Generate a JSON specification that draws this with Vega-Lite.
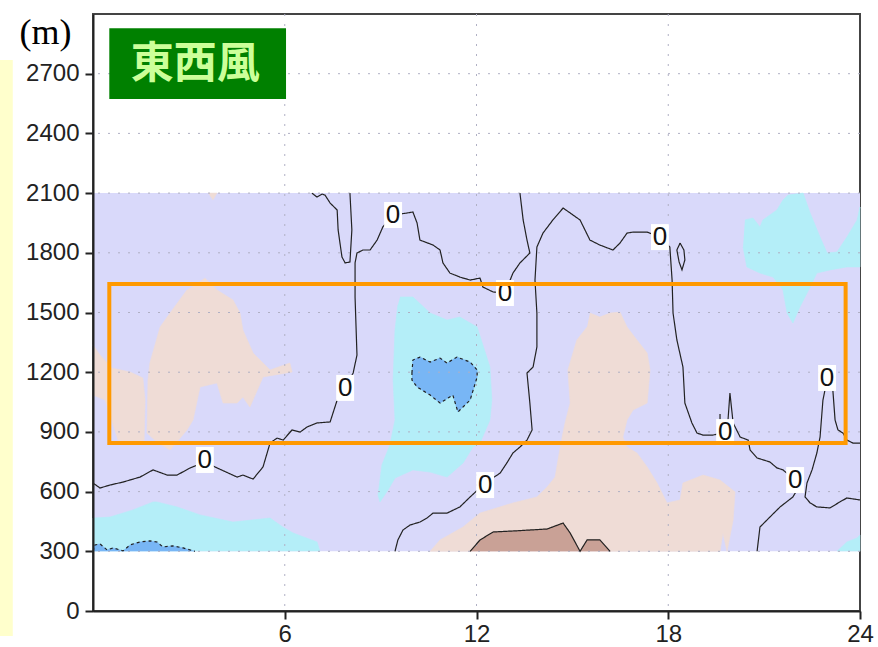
{
  "$schema": "https://vega.github.io/schema/vega-lite/v6.json",
  "width": 767,
  "height": 597,
  "autosize": "none",
  "padding": {"left": 93, "top": 14, "right": 18, "bottom": 36},
  "background": "white",
  "config": {"view": {"stroke": "#444", "strokeWidth": 2}},
  "datasets": {
    "fills": [
      {"p":"c1","k":"-1","z":1,"i":0,"h":0,"m":300},{"p":"c1","k":"-1","z":1,"i":1,"h":0,"m":467},{"p":"c1","k":"-1","z":1,"i":2,"h":0.53,"m":472},{"p":"c1","k":"-1","z":1,"i":3,"h":1.25,"m":508},{"p":"c1","k":"-1","z":1,"i":4,"h":1.88,"m":548},{"p":"c1","k":"-1","z":1,"i":5,"h":2.0,"m":548},{"p":"c1","k":"-1","z":1,"i":6,"h":2.63,"m":523},{"p":"c1","k":"-1","z":1,"i":7,"h":3.35,"m":483},{"p":"c1","k":"-1","z":1,"i":8,"h":4.38,"m":447},{"p":"c1","k":"-1","z":1,"i":9,"h":5.54,"m":467},{"p":"c1","k":"-1","z":1,"i":10,"h":5.94,"m":422},{"p":"c1","k":"-1","z":1,"i":11,"h":6.26,"m":392},{"p":"c1","k":"-1","z":1,"i":12,"h":7.01,"m":347},{"p":"c1","k":"-1","z":1,"i":13,"h":7.10,"m":300},
      {"p":"c2","k":"-1","z":1,"i":0,"h":9.61,"m":1578},{"p":"c2","k":"-1","z":1,"i":1,"h":10.01,"m":1578},{"p":"c2","k":"-1","z":1,"i":2,"h":10.55,"m":1497},{"p":"c2","k":"-1","z":1,"i":3,"h":11.08,"m":1462},{"p":"c2","k":"-1","z":1,"i":4,"h":11.48,"m":1477},{"p":"c2","k":"-1","z":1,"i":5,"h":12.02,"m":1427},{"p":"c2","k":"-1","z":1,"i":6,"h":12.42,"m":1226},{"p":"c2","k":"-1","z":1,"i":7,"h":12.48,"m":1060},{"p":"c2","k":"-1","z":1,"i":8,"h":12.42,"m":960},{"p":"c2","k":"-1","z":1,"i":9,"h":12.11,"m":844},{"p":"c2","k":"-1","z":1,"i":10,"h":11.89,"m":824},{"p":"c2","k":"-1","z":1,"i":11,"h":11.58,"m":744},{"p":"c2","k":"-1","z":1,"i":12,"h":11.08,"m":673},{"p":"c2","k":"-1","z":1,"i":13,"h":10.55,"m":698},{"p":"c2","k":"-1","z":1,"i":14,"h":10.01,"m":709},{"p":"c2","k":"-1","z":1,"i":15,"h":9.45,"m":668},{"p":"c2","k":"-1","z":1,"i":16,"h":9.23,"m":608},{"p":"c2","k":"-1","z":1,"i":17,"h":8.98,"m":548},{"p":"c2","k":"-1","z":1,"i":18,"h":8.92,"m":583},{"p":"c2","k":"-1","z":1,"i":19,"h":9.04,"m":734},{"p":"c2","k":"-1","z":1,"i":20,"h":9.29,"m":834},{"p":"c2","k":"-1","z":1,"i":21,"h":9.45,"m":960},{"p":"c2","k":"-1","z":1,"i":22,"h":9.39,"m":1161},{"p":"c2","k":"-1","z":1,"i":23,"h":9.45,"m":1412},{"p":"c2","k":"-1","z":1,"i":24,"h":9.54,"m":1538},
      {"p":"c3","k":"-1","z":1,"i":0,"h":20.40,"m":1965},{"p":"c3","k":"-1","z":1,"i":1,"h":20.65,"m":1975},{"p":"c3","k":"-1","z":1,"i":2,"h":20.87,"m":1930},{"p":"c3","k":"-1","z":1,"i":3,"h":20.96,"m":1965},{"p":"c3","k":"-1","z":1,"i":4,"h":21.40,"m":2015},{"p":"c3","k":"-1","z":1,"i":5,"h":21.59,"m":2065},{"p":"c3","k":"-1","z":1,"i":6,"h":21.75,"m":2090},{"p":"c3","k":"-1","z":1,"i":7,"h":22.22,"m":2100},{"p":"c3","k":"-1","z":1,"i":8,"h":22.44,"m":2000},{"p":"c3","k":"-1","z":1,"i":9,"h":22.75,"m":1879},{"p":"c3","k":"-1","z":1,"i":10,"h":22.97,"m":1799},{"p":"c3","k":"-1","z":1,"i":11,"h":23.28,"m":1804},{"p":"c3","k":"-1","z":1,"i":12,"h":23.59,"m":1879},{"p":"c3","k":"-1","z":1,"i":13,"h":23.91,"m":1965},{"p":"c3","k":"-1","z":1,"i":14,"h":24,"m":2030},{"p":"c3","k":"-1","z":1,"i":15,"h":24,"m":1729},{"p":"c3","k":"-1","z":1,"i":16,"h":23.59,"m":1729},{"p":"c3","k":"-1","z":1,"i":17,"h":23.06,"m":1714},{"p":"c3","k":"-1","z":1,"i":18,"h":22.65,"m":1698},{"p":"c3","k":"-1","z":1,"i":19,"h":22.44,"m":1628},{"p":"c3","k":"-1","z":1,"i":20,"h":22.12,"m":1528},{"p":"c3","k":"-1","z":1,"i":21,"h":21.90,"m":1447},{"p":"c3","k":"-1","z":1,"i":22,"h":21.72,"m":1497},{"p":"c3","k":"-1","z":1,"i":23,"h":21.59,"m":1613},{"p":"c3","k":"-1","z":1,"i":24,"h":21.28,"m":1678},{"p":"c3","k":"-1","z":1,"i":25,"h":20.87,"m":1698},{"p":"c3","k":"-1","z":1,"i":26,"h":20.46,"m":1729},{"p":"c3","k":"-1","z":1,"i":27,"h":20.34,"m":1829},
      {"p":"c4","k":"-1","z":1,"i":0,"h":23.28,"m":300},{"p":"c4","k":"-1","z":1,"i":1,"h":23.59,"m":347},{"p":"c4","k":"-1","z":1,"i":2,"h":23.91,"m":367},{"p":"c4","k":"-1","z":1,"i":3,"h":24,"m":382},{"p":"c4","k":"-1","z":1,"i":4,"h":24,"m":300},
      {"p":"r1","k":"1","z":1,"i":0,"h":3.50,"m":1673},{"p":"r1","k":"1","z":1,"i":1,"h":3.88,"m":1613},{"p":"r1","k":"1","z":1,"i":2,"h":4.38,"m":1563},{"p":"r1","k":"1","z":1,"i":3,"h":4.60,"m":1497},{"p":"r1","k":"1","z":1,"i":4,"h":4.69,"m":1412},{"p":"r1","k":"1","z":1,"i":5,"h":5.01,"m":1296},{"p":"r1","k":"1","z":1,"i":6,"h":5.54,"m":1211},{"p":"r1","k":"1","z":1,"i":7,"h":6.16,"m":1246},{"p":"r1","k":"1","z":1,"i":8,"h":6.23,"m":1201},{"p":"r1","k":"1","z":1,"i":9,"h":5.32,"m":1176},{"p":"r1","k":"1","z":1,"i":10,"h":4.91,"m":1025},{"p":"r1","k":"1","z":1,"i":11,"h":4.69,"m":1075},{"p":"r1","k":"1","z":1,"i":12,"h":4.51,"m":1045},{"p":"r1","k":"1","z":1,"i":13,"h":4.07,"m":1045},{"p":"r1","k":"1","z":1,"i":14,"h":3.88,"m":1146},{"p":"r1","k":"1","z":1,"i":15,"h":3.35,"m":1126},{"p":"r1","k":"1","z":1,"i":16,"h":3.13,"m":960},{"p":"r1","k":"1","z":1,"i":17,"h":2.94,"m":910},{"p":"r1","k":"1","z":1,"i":18,"h":2.41,"m":809},{"p":"r1","k":"1","z":1,"i":19,"h":2.0,"m":849},{"p":"r1","k":"1","z":1,"i":20,"h":1.69,"m":894},{"p":"r1","k":"1","z":1,"i":21,"h":1.72,"m":1161},{"p":"r1","k":"1","z":1,"i":22,"h":1.78,"m":1246},{"p":"r1","k":"1","z":1,"i":23,"h":2.10,"m":1427},{"p":"r1","k":"1","z":1,"i":24,"h":2.41,"m":1497},{"p":"r1","k":"1","z":1,"i":25,"h":2.94,"m":1613},
      {"p":"r2","k":"1","z":1,"i":0,"h":0,"m":1337},{"p":"r2","k":"1","z":1,"i":1,"h":0.22,"m":1286},{"p":"r2","k":"1","z":1,"i":2,"h":0.59,"m":1221},{"p":"r2","k":"1","z":1,"i":3,"h":1.16,"m":1201},{"p":"r2","k":"1","z":1,"i":4,"h":1.56,"m":1171},{"p":"r2","k":"1","z":1,"i":5,"h":1.63,"m":1060},{"p":"r2","k":"1","z":1,"i":6,"h":1.60,"m":859},{"p":"r2","k":"1","z":1,"i":7,"h":1.16,"m":839},{"p":"r2","k":"1","z":1,"i":8,"h":0.78,"m":859},{"p":"r2","k":"1","z":1,"i":9,"h":0.59,"m":960},{"p":"r2","k":"1","z":1,"i":10,"h":0.38,"m":1060},{"p":"r2","k":"1","z":1,"i":11,"h":0,"m":1085},
      {"p":"r3","k":"1","z":1,"i":0,"h":3.60,"m":2100},{"p":"r3","k":"1","z":1,"i":1,"h":3.88,"m":2100},{"p":"r3","k":"1","z":1,"i":2,"h":3.75,"m":2065},
      {"p":"r4","k":"1","z":1,"i":0,"h":15.55,"m":1497},{"p":"r4","k":"1","z":1,"i":1,"h":15.86,"m":1477},{"p":"r4","k":"1","z":1,"i":2,"h":16.18,"m":1497},{"p":"r4","k":"1","z":1,"i":3,"h":16.49,"m":1502},{"p":"r4","k":"1","z":1,"i":4,"h":16.71,"m":1427},{"p":"r4","k":"1","z":1,"i":5,"h":17.02,"m":1362},{"p":"r4","k":"1","z":1,"i":6,"h":17.34,"m":1296},{"p":"r4","k":"1","z":1,"i":7,"h":17.43,"m":1211},{"p":"r4","k":"1","z":1,"i":8,"h":17.34,"m":1045},{"p":"r4","k":"1","z":1,"i":9,"h":16.90,"m":1010},{"p":"r4","k":"1","z":1,"i":10,"h":16.71,"m":960},{"p":"r4","k":"1","z":1,"i":11,"h":16.58,"m":874},{"p":"r4","k":"1","z":1,"i":12,"h":16.71,"m":824},{"p":"r4","k":"1","z":1,"i":13,"h":17.02,"m":794},{"p":"r4","k":"1","z":1,"i":14,"h":17.34,"m":724},{"p":"r4","k":"1","z":1,"i":15,"h":17.65,"m":643},{"p":"r4","k":"1","z":1,"i":16,"h":17.96,"m":543},{"p":"r4","k":"1","z":1,"i":17,"h":18.37,"m":558},{"p":"r4","k":"1","z":1,"i":18,"h":18.46,"m":643},{"p":"r4","k":"1","z":1,"i":19,"h":19.09,"m":683},{"p":"r4","k":"1","z":1,"i":20,"h":19.62,"m":658},{"p":"r4","k":"1","z":1,"i":21,"h":20.09,"m":598},{"p":"r4","k":"1","z":1,"i":22,"h":20.03,"m":457},{"p":"r4","k":"1","z":1,"i":23,"h":19.84,"m":300},{"p":"r4","k":"1","z":1,"i":24,"h":19.71,"m":392},{"p":"r4","k":"1","z":1,"i":25,"h":19.62,"m":300},{"p":"r4","k":"1","z":1,"i":26,"h":10.55,"m":300},{"p":"r4","k":"1","z":1,"i":27,"h":10.86,"m":357},{"p":"r4","k":"1","z":1,"i":28,"h":11.58,"m":422},{"p":"r4","k":"1","z":1,"i":29,"h":12.11,"m":492},{"p":"r4","k":"1","z":1,"i":30,"h":13.14,"m":543},{"p":"r4","k":"1","z":1,"i":31,"h":13.89,"m":573},{"p":"r4","k":"1","z":1,"i":32,"h":14.21,"m":623},{"p":"r4","k":"1","z":1,"i":33,"h":14.46,"m":673},{"p":"r4","k":"1","z":1,"i":34,"h":14.55,"m":759},{"p":"r4","k":"1","z":1,"i":35,"h":14.68,"m":874},{"p":"r4","k":"1","z":1,"i":36,"h":14.77,"m":945},{"p":"r4","k":"1","z":1,"i":37,"h":14.93,"m":1045},{"p":"r4","k":"1","z":1,"i":38,"h":14.86,"m":1211},{"p":"r4","k":"1","z":1,"i":39,"h":15.14,"m":1362},{"p":"r4","k":"1","z":1,"i":40,"h":15.46,"m":1427},
      {"p":"b1","k":"-2","z":2,"i":0,"h":0,"m":300},{"p":"b1","k":"-2","z":2,"i":1,"h":0.06,"m":332},{"p":"b1","k":"-2","z":2,"i":2,"h":0.22,"m":337},{"p":"b1","k":"-2","z":2,"i":3,"h":0.44,"m":307},{"p":"b1","k":"-2","z":2,"i":4,"h":0.63,"m":317},{"p":"b1","k":"-2","z":2,"i":5,"h":0.94,"m":302},{"p":"b1","k":"-2","z":2,"i":6,"h":1.16,"m":332},{"p":"b1","k":"-2","z":2,"i":7,"h":1.47,"m":347},{"p":"b1","k":"-2","z":2,"i":8,"h":1.78,"m":352},{"p":"b1","k":"-2","z":2,"i":9,"h":2.0,"m":347},{"p":"b1","k":"-2","z":2,"i":10,"h":2.19,"m":322},{"p":"b1","k":"-2","z":2,"i":11,"h":2.5,"m":327},{"p":"b1","k":"-2","z":2,"i":12,"h":2.82,"m":317},{"p":"b1","k":"-2","z":2,"i":13,"h":3.19,"m":300},
      {"p":"b2","k":"-2","z":2,"i":0,"h":9.98,"m":1196},{"p":"b2","k":"-2","z":2,"i":1,"h":10.01,"m":1261},{"p":"b2","k":"-2","z":2,"i":2,"h":10.23,"m":1276},{"p":"b2","k":"-2","z":2,"i":3,"h":10.55,"m":1251},{"p":"b2","k":"-2","z":2,"i":4,"h":10.86,"m":1271},{"p":"b2","k":"-2","z":2,"i":5,"h":11.08,"m":1246},{"p":"b2","k":"-2","z":2,"i":6,"h":11.39,"m":1276},{"p":"b2","k":"-2","z":2,"i":7,"h":11.80,"m":1251},{"p":"b2","k":"-2","z":2,"i":8,"h":12.02,"m":1211},{"p":"b2","k":"-2","z":2,"i":9,"h":12.02,"m":1176},{"p":"b2","k":"-2","z":2,"i":10,"h":11.80,"m":1060},{"p":"b2","k":"-2","z":2,"i":11,"h":11.48,"m":1010},{"p":"b2","k":"-2","z":2,"i":12,"h":11.42,"m":1000},{"p":"b2","k":"-2","z":2,"i":13,"h":11.26,"m":1085},{"p":"b2","k":"-2","z":2,"i":14,"h":10.86,"m":1045},{"p":"b2","k":"-2","z":2,"i":15,"h":10.55,"m":1085},{"p":"b2","k":"-2","z":2,"i":16,"h":10.14,"m":1126},{"p":"b2","k":"-2","z":2,"i":17,"h":9.98,"m":1161},
      {"p":"br","k":"2","z":2,"i":0,"h":11.80,"m":300},{"p":"br","k":"2","z":2,"i":1,"h":12.11,"m":357},{"p":"br","k":"2","z":2,"i":2,"h":12.52,"m":397},{"p":"br","k":"2","z":2,"i":3,"h":13.14,"m":402},{"p":"br","k":"2","z":2,"i":4,"h":14.21,"m":412},{"p":"br","k":"2","z":2,"i":5,"h":14.71,"m":442},{"p":"br","k":"2","z":2,"i":6,"h":14.93,"m":392},{"p":"br","k":"2","z":2,"i":7,"h":15.24,"m":300},{"p":"br","k":"2","z":2,"i":8,"h":15.46,"m":357},{"p":"br","k":"2","z":2,"i":9,"h":15.86,"m":357},{"p":"br","k":"2","z":2,"i":10,"h":16.18,"m":300}
    ],
    "contours": [
      {"c":"A","s":"solid","i":0,"h":0,"m":643},{"c":"A","s":"solid","i":1,"h":0.22,"m":618},{"c":"A","s":"solid","i":2,"h":0.53,"m":633},{"c":"A","s":"solid","i":3,"h":0.94,"m":648},{"c":"A","s":"solid","i":4,"h":1.47,"m":673},{"c":"A","s":"solid","i":5,"h":1.88,"m":709},{"c":"A","s":"solid","i":6,"h":2.32,"m":683},{"c":"A","s":"solid","i":7,"h":2.63,"m":683},{"c":"A","s":"solid","i":8,"h":3.04,"m":719},{"c":"A","s":"solid","i":9,"h":3.50,"m":749},{"c":"A","s":"solid","i":10,"h":3.88,"m":719},{"c":"A","s":"solid","i":11,"h":4.51,"m":673},{"c":"A","s":"solid","i":12,"h":4.69,"m":683},{"c":"A","s":"solid","i":13,"h":5.01,"m":663},{"c":"A","s":"solid","i":14,"h":5.32,"m":724},{"c":"A","s":"solid","i":15,"h":5.54,"m":844},{"c":"A","s":"solid","i":16,"h":5.76,"m":869},{"c":"A","s":"solid","i":17,"h":5.95,"m":859},{"c":"A","s":"solid","i":18,"h":6.23,"m":910},{"c":"A","s":"solid","i":19,"h":6.48,"m":899},{"c":"A","s":"solid","i":20,"h":6.70,"m":925},{"c":"A","s":"solid","i":21,"h":7.01,"m":945},{"c":"A","s":"solid","i":22,"h":7.42,"m":950},{"c":"A","s":"solid","i":23,"h":7.64,"m":1060},{"c":"A","s":"solid","i":24,"h":7.89,"m":1121},{"c":"A","s":"solid","i":25,"h":8.14,"m":1196},{"c":"A","s":"solid","i":26,"h":8.26,"m":1286},{"c":"A","s":"solid","i":27,"h":8.20,"m":1578},{"c":"A","s":"solid","i":28,"h":8.20,"m":1749},{"c":"A","s":"solid","i":29,"h":8.26,"m":1799},{"c":"A","s":"solid","i":30,"h":8.45,"m":1814},{"c":"A","s":"solid","i":31,"h":8.67,"m":1814},{"c":"A","s":"solid","i":32,"h":8.89,"m":1864},{"c":"A","s":"solid","i":33,"h":9.07,"m":1930},{"c":"A","s":"solid","i":34,"h":9.39,"m":1990},{"c":"A","s":"solid","i":35,"h":9.83,"m":2000},{"c":"A","s":"solid","i":36,"h":10.01,"m":2005},{"c":"A","s":"solid","i":37,"h":10.14,"m":1950},{"c":"A","s":"solid","i":38,"h":10.23,"m":1864},{"c":"A","s":"solid","i":39,"h":10.64,"m":1839},{"c":"A","s":"solid","i":40,"h":10.86,"m":1814},{"c":"A","s":"solid","i":41,"h":10.95,"m":1749},{"c":"A","s":"solid","i":42,"h":11.17,"m":1698},{"c":"A","s":"solid","i":43,"h":11.48,"m":1678},{"c":"A","s":"solid","i":44,"h":11.80,"m":1663},{"c":"A","s":"solid","i":45,"h":12.11,"m":1673},{"c":"A","s":"solid","i":46,"h":12.20,"m":1628},{"c":"A","s":"solid","i":47,"h":12.52,"m":1603},{"c":"A","s":"solid","i":48,"h":12.89,"m":1598},{"c":"A","s":"solid","i":49,"h":13.14,"m":1698},{"c":"A","s":"solid","i":50,"h":13.36,"m":1749},{"c":"A","s":"solid","i":51,"h":13.67,"m":1799},{"c":"A","s":"solid","i":52,"h":13.58,"m":1864},{"c":"A","s":"solid","i":53,"h":13.46,"m":1965},{"c":"A","s":"solid","i":54,"h":13.36,"m":2100},
      {"c":"B","s":"solid","i":0,"h":6.85,"m":2100},{"c":"B","s":"solid","i":1,"h":7.01,"m":2080},{"c":"B","s":"solid","i":2,"h":7.17,"m":2095},{"c":"B","s":"solid","i":3,"h":7.26,"m":2090},{"c":"B","s":"solid","i":4,"h":7.42,"m":2050},{"c":"B","s":"solid","i":5,"h":7.64,"m":2015},{"c":"B","s":"solid","i":6,"h":7.67,"m":1915},{"c":"B","s":"solid","i":7,"h":7.79,"m":1779},{"c":"B","s":"solid","i":8,"h":7.89,"m":1749},{"c":"B","s":"solid","i":9,"h":8.04,"m":1754},{"c":"B","s":"solid","i":10,"h":8.10,"m":1915},{"c":"B","s":"solid","i":11,"h":8.04,"m":2100},
      {"c":"C","s":"solid","i":0,"h":9.45,"m":300},{"c":"C","s":"solid","i":1,"h":9.54,"m":357},{"c":"C","s":"solid","i":2,"h":9.70,"m":407},{"c":"C","s":"solid","i":3,"h":9.92,"m":432},{"c":"C","s":"solid","i":4,"h":10.23,"m":447},{"c":"C","s":"solid","i":5,"h":10.45,"m":467},{"c":"C","s":"solid","i":6,"h":10.64,"m":492},{"c":"C","s":"solid","i":7,"h":11.08,"m":492},{"c":"C","s":"solid","i":8,"h":11.48,"m":523},{"c":"C","s":"solid","i":9,"h":11.80,"m":573},{"c":"C","s":"solid","i":10,"h":12.27,"m":643},{"c":"C","s":"solid","i":11,"h":12.74,"m":693},{"c":"C","s":"solid","i":12,"h":12.95,"m":744},{"c":"C","s":"solid","i":13,"h":13.14,"m":794},{"c":"C","s":"solid","i":14,"h":13.36,"m":824},{"c":"C","s":"solid","i":15,"h":13.58,"m":859},{"c":"C","s":"solid","i":16,"h":13.74,"m":910},{"c":"C","s":"solid","i":17,"h":13.67,"m":1045},{"c":"C","s":"solid","i":18,"h":13.58,"m":1196},{"c":"C","s":"solid","i":19,"h":13.77,"m":1226},{"c":"C","s":"solid","i":20,"h":13.89,"m":1327},{"c":"C","s":"solid","i":21,"h":13.89,"m":1497},{"c":"C","s":"solid","i":22,"h":13.83,"m":1663},{"c":"C","s":"solid","i":23,"h":13.89,"m":1829},{"c":"C","s":"solid","i":24,"h":14.08,"m":1899},{"c":"C","s":"solid","i":25,"h":14.39,"m":1965},{"c":"C","s":"solid","i":26,"h":14.71,"m":2025},{"c":"C","s":"solid","i":27,"h":15.24,"m":1965},{"c":"C","s":"solid","i":28,"h":15.55,"m":1864},{"c":"C","s":"solid","i":29,"h":15.86,"m":1839},{"c":"C","s":"solid","i":30,"h":16.27,"m":1814},{"c":"C","s":"solid","i":31,"h":16.49,"m":1849},{"c":"C","s":"solid","i":32,"h":16.71,"m":1899},{"c":"C","s":"solid","i":33,"h":16.90,"m":1904},{"c":"C","s":"solid","i":34,"h":17.34,"m":1904},{"c":"C","s":"solid","i":35,"h":17.74,"m":1879},{"c":"C","s":"solid","i":36,"h":18.05,"m":1829},{"c":"C","s":"solid","i":37,"h":18.12,"m":1663},{"c":"C","s":"solid","i":38,"h":18.15,"m":1497},{"c":"C","s":"solid","i":39,"h":18.27,"m":1362},{"c":"C","s":"solid","i":40,"h":18.46,"m":1226},{"c":"C","s":"solid","i":41,"h":18.52,"m":1045},{"c":"C","s":"solid","i":42,"h":18.74,"m":945},{"c":"C","s":"solid","i":43,"h":18.90,"m":894},{"c":"C","s":"solid","i":44,"h":19.09,"m":884},{"c":"C","s":"solid","i":45,"h":19.40,"m":884},{"c":"C","s":"solid","i":46,"h":19.78,"m":899},{"c":"C","s":"solid","i":47,"h":19.87,"m":960},{"c":"C","s":"solid","i":48,"h":19.93,"m":1095},{"c":"C","s":"solid","i":49,"h":20.03,"m":945},{"c":"C","s":"solid","i":50,"h":20.25,"m":874},{"c":"C","s":"solid","i":51,"h":20.50,"m":859},{"c":"C","s":"solid","i":52,"h":20.56,"m":809},{"c":"C","s":"solid","i":53,"h":20.78,"m":769},{"c":"C","s":"solid","i":54,"h":21.18,"m":749},{"c":"C","s":"solid","i":55,"h":21.40,"m":719},{"c":"C","s":"solid","i":56,"h":21.59,"m":709},{"c":"C","s":"solid","i":57,"h":21.97,"m":658},{"c":"C","s":"solid","i":58,"h":22.03,"m":608},{"c":"C","s":"solid","i":59,"h":21.90,"m":573},{"c":"C","s":"solid","i":60,"h":21.50,"m":523},{"c":"C","s":"solid","i":61,"h":21.18,"m":472},{"c":"C","s":"solid","i":62,"h":20.87,"m":422},{"c":"C","s":"solid","i":63,"h":20.78,"m":300},
      {"c":"D","s":"solid","i":0,"h":24,"m":844},{"c":"D","s":"solid","i":1,"h":23.78,"m":844},{"c":"D","s":"solid","i":2,"h":23.59,"m":859},{"c":"D","s":"solid","i":3,"h":23.47,"m":894},{"c":"D","s":"solid","i":4,"h":23.31,"m":910},{"c":"D","s":"solid","i":5,"h":23.22,"m":960},{"c":"D","s":"solid","i":6,"h":23.15,"m":1111},{"c":"D","s":"solid","i":7,"h":22.97,"m":1161},{"c":"D","s":"solid","i":8,"h":22.84,"m":1060},{"c":"D","s":"solid","i":9,"h":22.75,"m":874},{"c":"D","s":"solid","i":10,"h":22.65,"m":794},{"c":"D","s":"solid","i":11,"h":22.50,"m":709},{"c":"D","s":"solid","i":12,"h":22.34,"m":643},{"c":"D","s":"solid","i":13,"h":22.28,"m":573},{"c":"D","s":"solid","i":14,"h":22.44,"m":543},{"c":"D","s":"solid","i":15,"h":22.65,"m":523},{"c":"D","s":"solid","i":16,"h":23.06,"m":518},{"c":"D","s":"solid","i":17,"h":23.37,"m":548},{"c":"D","s":"solid","i":18,"h":23.59,"m":568},{"c":"D","s":"solid","i":19,"h":24,"m":558},
      {"c":"E","s":"solid","i":0,"h":18.37,"m":1849},{"c":"E","s":"solid","i":1,"h":18.49,"m":1814},{"c":"E","s":"solid","i":2,"h":18.52,"m":1764},{"c":"E","s":"solid","i":3,"h":18.43,"m":1714},{"c":"E","s":"solid","i":4,"h":18.34,"m":1754},{"c":"E","s":"solid","i":5,"h":18.27,"m":1814},{"c":"E","s":"solid","i":6,"h":18.37,"m":1849},
      {"c":"T","s":"solid","i":0,"h":19.62,"m":930},{"c":"T","s":"solid","i":1,"h":19.62,"m":990},
      {"c":"BR","s":"solid","i":0,"h":11.80,"m":300},{"c":"BR","s":"solid","i":1,"h":12.11,"m":357},{"c":"BR","s":"solid","i":2,"h":12.52,"m":397},{"c":"BR","s":"solid","i":3,"h":13.14,"m":402},{"c":"BR","s":"solid","i":4,"h":14.21,"m":412},{"c":"BR","s":"solid","i":5,"h":14.71,"m":442},{"c":"BR","s":"solid","i":6,"h":14.93,"m":392},{"c":"BR","s":"solid","i":7,"h":15.24,"m":300},{"c":"BR","s":"solid","i":8,"h":15.46,"m":357},{"c":"BR","s":"solid","i":9,"h":15.86,"m":357},{"c":"BR","s":"solid","i":10,"h":16.18,"m":300},
      {"c":"B1","s":"dashed","i":0,"h":0,"m":300},{"c":"B1","s":"dashed","i":1,"h":0.06,"m":332},{"c":"B1","s":"dashed","i":2,"h":0.22,"m":337},{"c":"B1","s":"dashed","i":3,"h":0.44,"m":307},{"c":"B1","s":"dashed","i":4,"h":0.63,"m":317},{"c":"B1","s":"dashed","i":5,"h":0.94,"m":302},{"c":"B1","s":"dashed","i":6,"h":1.16,"m":332},{"c":"B1","s":"dashed","i":7,"h":1.47,"m":347},{"c":"B1","s":"dashed","i":8,"h":1.78,"m":352},{"c":"B1","s":"dashed","i":9,"h":2.0,"m":347},{"c":"B1","s":"dashed","i":10,"h":2.19,"m":322},{"c":"B1","s":"dashed","i":11,"h":2.5,"m":327},{"c":"B1","s":"dashed","i":12,"h":2.82,"m":317},{"c":"B1","s":"dashed","i":13,"h":3.19,"m":300},
      {"c":"B2","s":"dashed","i":0,"h":9.98,"m":1196},{"c":"B2","s":"dashed","i":1,"h":10.01,"m":1261},{"c":"B2","s":"dashed","i":2,"h":10.23,"m":1276},{"c":"B2","s":"dashed","i":3,"h":10.55,"m":1251},{"c":"B2","s":"dashed","i":4,"h":10.86,"m":1271},{"c":"B2","s":"dashed","i":5,"h":11.08,"m":1246},{"c":"B2","s":"dashed","i":6,"h":11.39,"m":1276},{"c":"B2","s":"dashed","i":7,"h":11.80,"m":1251},{"c":"B2","s":"dashed","i":8,"h":12.02,"m":1211},{"c":"B2","s":"dashed","i":9,"h":12.02,"m":1176},{"c":"B2","s":"dashed","i":10,"h":11.80,"m":1060},{"c":"B2","s":"dashed","i":11,"h":11.48,"m":1010},{"c":"B2","s":"dashed","i":12,"h":11.42,"m":1000},{"c":"B2","s":"dashed","i":13,"h":11.26,"m":1085},{"c":"B2","s":"dashed","i":14,"h":10.86,"m":1045},{"c":"B2","s":"dashed","i":15,"h":10.55,"m":1085},{"c":"B2","s":"dashed","i":16,"h":10.14,"m":1126},{"c":"B2","s":"dashed","i":17,"h":9.98,"m":1161},{"c":"B2","s":"dashed","i":18,"h":9.98,"m":1196}
    ],
    "labels": [
      {"v":"0","h":3.50,"m":759},{"v":"0","h":7.89,"m":1121},{"v":"0","h":9.39,"m":1990},{"v":"0","h":12.89,"m":1598},{"v":"0","h":12.27,"m":633},{"v":"0","h":17.74,"m":1879},{"v":"0","h":19.78,"m":899},{"v":"0","h":21.97,"m":658},{"v":"0","h":22.97,"m":1171}
    ]
  },
  "layer": [
    {
      "data": {"values": [{"zone":"band","h":0,"h2":24,"m":300,"m2":2100}]},
      "mark": {"type": "rect", "fill": "#d9d9fa"},
      "encoding": {
        "x": {"field": "h", "type": "quantitative", "scale": {"domain": [0, 24], "nice": false, "zero": false},
          "axis": {"values": [6, 12, 18, 24], "format": "d", "grid": false, "title": null, "labelFontSize": 24, "labelFont": "Liberation Sans", "labelColor": "#222", "labelFlush": false, "labelPadding": 3, "tickSize": 8, "tickWidth": 2, "tickColor": "#222", "domainColor": "#222", "domainWidth": 2, "zindex": 1}},
        "x2": {"field": "h2"},
        "y": {"field": "m", "type": "quantitative", "scale": {"domain": [0, 3000], "nice": false, "zero": false},
          "axis": {"values": [0, 300, 600, 900, 1200, 1500, 1800, 2100, 2400, 2700], "format": "d", "grid": false, "title": "(m)", "titleAngle": 0, "titleX": -48, "titleY": 18, "titleAlign": "center", "titleBaseline": "middle", "titleFont": "Liberation Serif", "titleFontSize": 36, "titleFontWeight": "normal", "titleColor": "#000", "labelFontSize": 24, "labelFont": "Liberation Sans", "labelColor": "#222", "labelFlush": false, "labelPadding": 6, "tickSize": 8, "tickWidth": 2, "tickColor": "#222", "domainColor": "#222", "domainWidth": 2, "zindex": 1}},
        "y2": {"field": "m2"}
      }
    },
    {
      "data": {"name": "fills"},
      "transform": [{"filter": "datum.z == 1"}],
      "mark": {"type": "line", "strokeWidth": 0.6},
      "encoding": {
        "x": {"field": "h", "type": "quantitative"},
        "y": {"field": "m", "type": "quantitative"},
        "detail": {"field": "p"},
        "order": {"field": "i", "type": "quantitative"},
        "fill": {"field": "k", "type": "nominal", "scale": {"domain": ["-2", "-1", "1", "2"], "range": ["#78b6f5", "#b4eef8", "#efdcd6", "#c9a196"]}, "legend": null},
        "stroke": {"field": "k", "type": "nominal", "scale": {"domain": ["-2", "-1", "1", "2"], "range": ["#78b6f5", "#b4eef8", "#efdcd6", "#c9a196"]}, "legend": null}
      }
    },
    {
      "data": {"name": "fills"},
      "transform": [{"filter": "datum.z == 2"}],
      "mark": {"type": "line", "strokeWidth": 0.6},
      "encoding": {
        "x": {"field": "h", "type": "quantitative"},
        "y": {"field": "m", "type": "quantitative"},
        "detail": {"field": "p"},
        "order": {"field": "i", "type": "quantitative"},
        "fill": {"field": "k", "type": "nominal", "scale": {"domain": ["-2", "-1", "1", "2"], "range": ["#78b6f5", "#b4eef8", "#efdcd6", "#c9a196"]}, "legend": null},
        "stroke": {"field": "k", "type": "nominal", "scale": {"domain": ["-2", "-1", "1", "2"], "range": ["#78b6f5", "#b4eef8", "#efdcd6", "#c9a196"]}, "legend": null}
      }
    },
    {
      "data": {"values": [{"h": 6}, {"h": 12}, {"h": 18}]},
      "mark": {"type": "rule", "color": "#b0b0c4", "strokeWidth": 1, "strokeDash": [2, 8]},
      "encoding": {
        "x": {"field": "h", "type": "quantitative"}
      }
    },
    {
      "data": {"values": [{"m": 300}, {"m": 600}, {"m": 900}, {"m": 1200}, {"m": 1500}, {"m": 1800}, {"m": 2100}, {"m": 2400}, {"m": 2700}]},
      "mark": {"type": "rule", "color": "#b0b0c4", "strokeWidth": 1, "strokeDash": [2, 8]},
      "encoding": {
        "y": {"field": "m", "type": "quantitative"}
      }
    },
    {
      "data": {"name": "contours"},
      "mark": {"type": "line", "color": "#222", "strokeWidth": 1.2},
      "encoding": {
        "x": {"field": "h", "type": "quantitative"},
        "y": {"field": "m", "type": "quantitative"},
        "detail": {"field": "c"},
        "order": {"field": "i", "type": "quantitative"},
        "strokeDash": {"field": "s", "type": "nominal", "scale": {"domain": ["solid", "dashed"], "range": [[1, 0], [3, 3]]}, "legend": null}
      }
    },
    {
      "data": {"name": "labels"},
      "mark": {"type": "point", "shape": "M-0.69,-1L0.69,-1L0.69,1L-0.69,1Z", "filled": true, "fill": "white", "opacity": 1, "strokeWidth": 0, "size": 676},
      "encoding": {
        "x": {"field": "h", "type": "quantitative"},
        "y": {"field": "m", "type": "quantitative"}
      }
    },
    {
      "data": {"name": "labels"},
      "mark": {"type": "text", "font": "Liberation Sans", "fontSize": 26, "color": "#111", "align": "center", "baseline": "middle"},
      "encoding": {
        "x": {"field": "h", "type": "quantitative"},
        "y": {"field": "m", "type": "quantitative"},
        "text": {"field": "v", "type": "nominal"}
      }
    },
    {
      "data": {"values": [{"box": "focus", "h": 0.51, "h2": 23.55, "m": 844, "m2": 1643}]},
      "mark": {"type": "rect", "fillOpacity": 0, "stroke": "#ff9900", "strokeWidth": 4},
      "encoding": {
        "x": {"field": "h", "type": "quantitative"},
        "x2": {"field": "h2"},
        "y": {"field": "m", "type": "quantitative"},
        "y2": {"field": "m2"}
      }
    },
    {
      "data": {"values": [{"box": "title", "h": 0.51, "h2": 6.04, "m": 2573, "m2": 2928}]},
      "mark": {"type": "rect", "fill": "#008000"},
      "encoding": {
        "x": {"field": "h", "type": "quantitative"},
        "x2": {"field": "h2"},
        "y": {"field": "m", "type": "quantitative"},
        "y2": {"field": "m2"}
      }
    },
    {
      "data": {"values": [{"t": "東西風", "h": 3.2, "m": 2745}]},
      "mark": {"type": "text", "font": "Noto Sans CJK JP", "fontWeight": "bold", "fontSize": 43, "color": "#ccff99", "align": "center", "baseline": "middle"},
      "encoding": {
        "x": {"field": "h", "type": "quantitative"},
        "y": {"field": "m", "type": "quantitative"},
        "text": {"field": "t", "type": "nominal"}
      }
    },
    {
      "data": {"values": [{"box": "side", "h": -2.91, "h2": -2.51, "m": -126, "m2": 2769}]},
      "mark": {"type": "rect", "fill": "#ffffcc"},
      "encoding": {
        "x": {"field": "h", "type": "quantitative"},
        "x2": {"field": "h2"},
        "y": {"field": "m", "type": "quantitative"},
        "y2": {"field": "m2"}
      }
    }
  ]
}
